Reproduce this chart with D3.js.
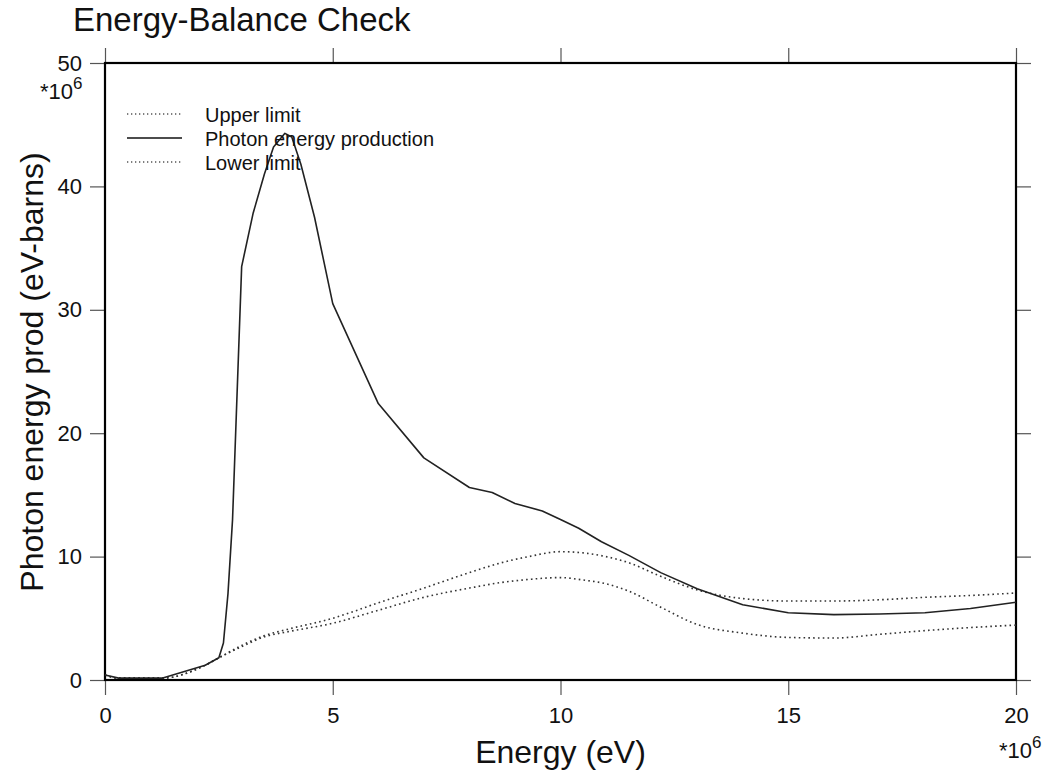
<!DOCTYPE html>
<html>
<head>
<meta charset="utf-8">
<script src="https://cdn.jsdelivr.net/npm/d3@7"></script>
<style>
  body { margin: 0; background: #fff; }
  text { font-family: "Liberation Sans", Arial, sans-serif; fill: #111; }
  .tick line { stroke: #555; stroke-width: 1.2; }
</style>
</head>
<body>
<div id="graph_box"></div>
<script>
// values, energy in 1e6 eV, production in 1e6 eV-barns
const prodEnergy = [0, 0.3, 1.25, 2.2, 2.5, 2.6, 2.7, 2.8, 3.0, 3.25, 3.5, 3.7, 3.95, 4.1, 4.3, 4.6, 5.0,
  6.0, 7.0, 8.0, 8.5, 9.0, 9.6, 10.0, 10.4, 10.9, 11.5, 12.2, 13.0, 14.0, 15.0, 16.0, 17.0, 18.0, 19.0, 20.0];
const photonProd = [0.4, 0.15, 0.15, 1.2, 1.8, 3.0, 7.0, 13.0, 33.5, 37.8, 41.0, 43.2, 44.3, 44.0, 41.8, 37.5, 30.5,
  22.4, 18.0, 15.6, 15.2, 14.3, 13.7, 13.0, 12.3, 11.2, 10.1, 8.7, 7.4, 6.1, 5.45, 5.3, 5.35, 5.45, 5.8, 6.3];

const limitEnergy = [0, 0.3, 1.25, 2.2, 2.5, 3.0, 3.5, 4.0, 5.0, 6.0, 7.0, 8.0, 8.7, 9.3, 10.0, 10.5, 11.0, 11.5,
  12.2, 13.0, 14.0, 15.0, 16.0, 17.0, 18.0, 19.0, 20.0];
const upperLimit = [0.4, 0.15, 0.15, 1.2, 1.8, 2.8, 3.6, 4.1, 5.0, 6.25, 7.45, 8.7, 9.5, 10.0, 10.4, 10.3, 10.0, 9.5,
  8.4, 7.3, 6.6, 6.4, 6.4, 6.5, 6.7, 6.85, 7.05];
const lowerLimit = [0.4, 0.15, 0.15, 1.2, 1.8, 2.7, 3.5, 3.9, 4.6, 5.65, 6.7, 7.45, 7.9, 8.15, 8.3, 8.1, 7.8, 7.2,
  5.9, 4.5, 3.8, 3.45, 3.4, 3.7, 4.0, 4.25, 4.45];

const xTicks = [0, 5, 10, 15, 20];
const yTicks = [0, 10, 20, 30, 40, 50];
const legendItems = [
  { label: "Upper limit", dotted: true },
  { label: "Photon energy production", dotted: false },
  { label: "Lower limit", dotted: true }
];

const W = 1053, H = 775;
const margin = { top: 63, right: 37, bottom: 95, left: 105 };
const width = W - margin.left - margin.right,
  height = H - margin.top - margin.bottom;

const svg = d3.select("#graph_box").append("svg")
  .attr("width", W).attr("height", H);
const g = svg.append("g").attr("transform", `translate(${margin.left},${margin.top})`);

const x = d3.scaleLinear().domain([0, 20]).range([0, width]);
const y = d3.scaleLinear().domain([0, 50]).range([height, 0]);

// axes on all four sides, ticks pointing outward
const fs = "22px";
g.append("g").attr("transform", `translate(0,${height})`)
  .call(d3.axisBottom(x).tickValues(xTicks).tickSize(15).tickPadding(12))
  .call(a => a.select(".domain").remove())
  .selectAll("text").style("font-size", fs);
g.append("g")
  .call(d3.axisTop(x).tickValues(xTicks).tickSize(15).tickFormat(""))
  .call(a => a.select(".domain").remove());
g.append("g")
  .call(d3.axisLeft(y).tickValues(yTicks).tickSize(15).tickPadding(8))
  .call(a => a.select(".domain").remove())
  .selectAll("text").style("font-size", fs);
g.append("g").attr("transform", `translate(${width},0)`)
  .call(d3.axisRight(y).tickValues(yTicks).tickSize(15).tickFormat(""))
  .call(a => a.select(".domain").remove());

// frame
g.append("rect")
  .attr("width", width).attr("height", height)
  .attr("fill", "none").attr("stroke", "#000").attr("stroke-width", 2.2);

// *10^6 multipliers
function mult(sel, xx, yy) {
  const t = sel.append("text").attr("x", xx).attr("y", yy).style("font-size", fs);
  t.append("tspan").text("*10");
  t.append("tspan").attr("dy", -10).style("font-size", "17px").text("6");
}
mult(svg, 40, 99);
mult(svg, 999, 758);

// lines
const line = d3.line().x(d => x(d[0])).y(d => y(d[1]));
const smooth = d3.line().x(d => x(d[0])).y(d => y(d[1])).curve(d3.curveMonotoneX);

[upperLimit, lowerLimit].forEach(vals => {
  g.append("path")
    .datum(limitEnergy.map((e, i) => [e, vals[i]]))
    .attr("d", smooth)
    .attr("fill", "none")
    .attr("stroke", "#333")
    .attr("stroke-width", 1.6)
    .attr("stroke-dasharray", "1.6,3.2");
});

g.append("path")
  .datum(prodEnergy.map((e, i) => [e, photonProd[i]]))
  .attr("d", line)
  .attr("fill", "none")
  .attr("stroke", "#222")
  .attr("stroke-width", 1.6)
  .attr("stroke-linejoin", "round");

// legend
const leg = svg.append("g");
legendItems.forEach((d, i) => {
  const by = 122 + i * 24;
  leg.append("line")
    .attr("x1", 127).attr("x2", 182)
    .attr("y1", by - 8).attr("y2", by - 8)
    .attr("stroke", d.dotted ? "#555" : "#111")
    .attr("stroke-width", d.dotted ? 1.3 : 1.6)
    .attr("stroke-dasharray", d.dotted ? "1.3,2.7" : null);
  leg.append("text")
    .attr("x", 205).attr("y", by)
    .style("font-size", "20px")
    .text(d.label);
});

// titles
svg.append("text").attr("x", 73).attr("y", 31)
  .style("font-size", "33px").text("Energy-Balance Check");
svg.append("text")
  .attr("x", margin.left + width / 2).attr("y", 763)
  .attr("text-anchor", "middle").style("font-size", "32px")
  .text("Energy (eV)");
svg.append("text")
  .attr("transform", "rotate(-90)")
  .attr("x", -372).attr("y", 43)
  .attr("text-anchor", "middle").style("font-size", "32px")
  .text("Photon energy prod (eV-barns)");
</script>
</body>
</html>
